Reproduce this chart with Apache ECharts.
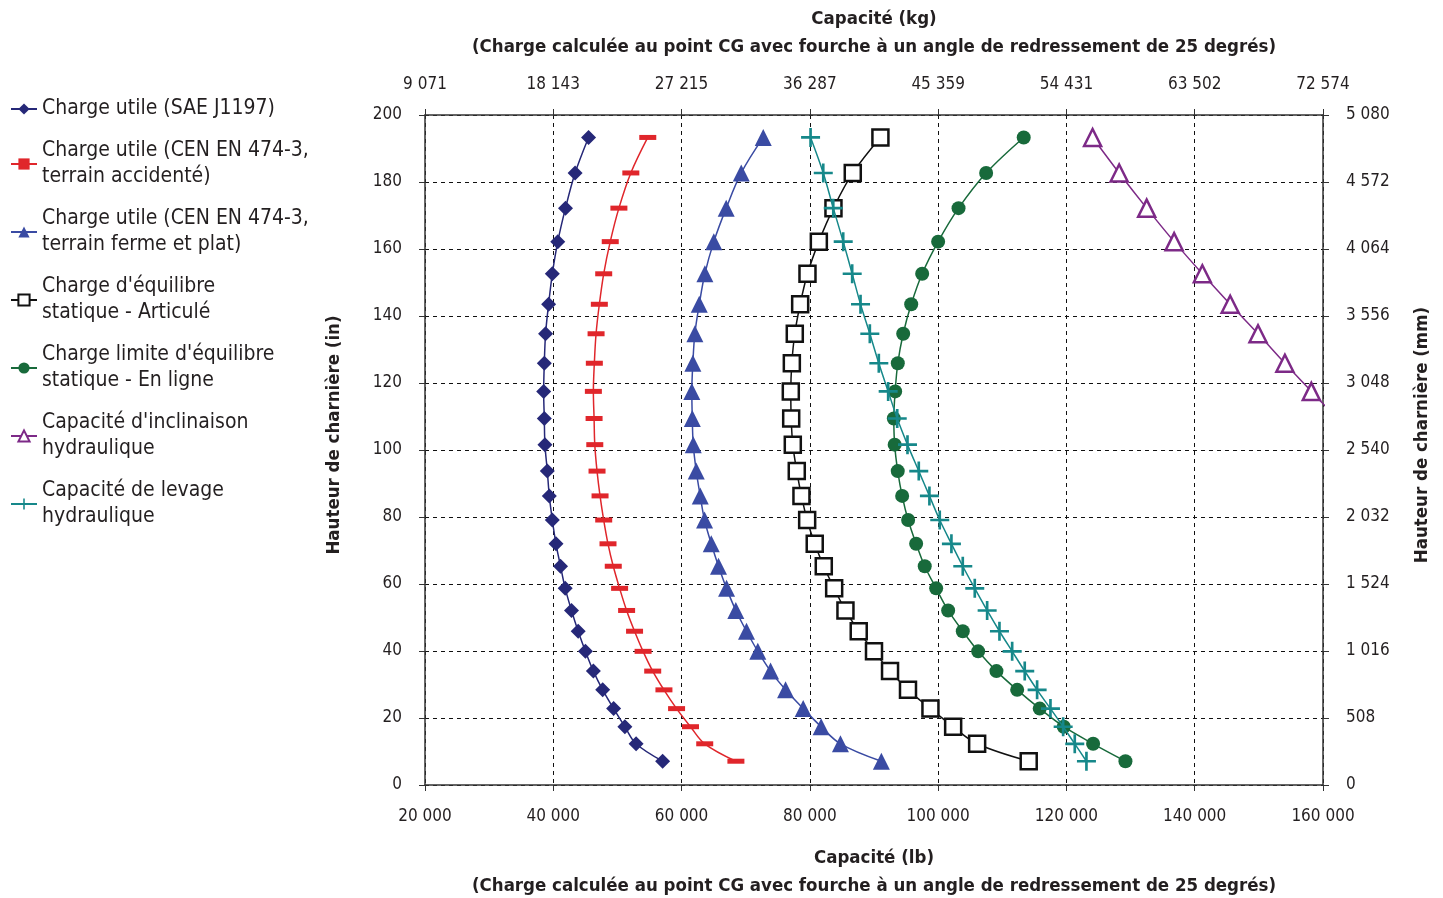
<!DOCTYPE html>
<html>
<head>
<meta charset="utf-8">
<script src="https://cdn.jsdelivr.net/npm/echarts@6/dist/echarts.min.js"></script>
<style>
html,body{margin:0;padding:0;background:#fff;}
#chart{width:1443px;height:898px;}
</style>
</head>
<body>
<div id="chart"></div>
<script>
// Hinge heights (in) shared by all curves
const heights = [193.3, 182.7, 172.2, 162.2, 152.6, 143.5, 134.7, 125.9, 117.5, 109.4, 101.6, 93.7, 86.3, 79.1, 72.0, 65.3, 58.7, 52.1, 45.9, 39.9, 34.0, 28.4, 22.8, 17.4, 12.3, 7.1];

// Capacities (lb)
const saeJ1197 = [45500, 43400, 41900, 40700, 39850, 39270, 38800, 38600, 38500, 38600, 38700, 39070, 39380, 39850, 40420, 41130, 41860, 42840, 43880, 45010, 46250, 47700, 49410, 51160, 52910, 57050];
const cenRough = [54730, 52090, 50230, 48880, 47860, 47180, 46670, 46400, 46250, 46360, 46470, 46820, 47290, 47860, 48530, 49350, 50340, 51430, 52670, 54000, 55500, 57250, 59220, 61390, 63610, 68470];
const cenFlat = [72730, 69300, 66960, 65030, 63630, 62760, 62070, 61760, 61600, 61670, 61820, 62290, 62910, 63580, 64630, 65760, 67010, 68460, 70120, 71890, 73870, 76210, 78960, 81760, 84770, 91150];
const staticArticulated = [91000, 86690, 83680, 81400, 79630, 78490, 77650, 77190, 77030, 77090, 77340, 77960, 78690, 79580, 80760, 82170, 83790, 85550, 87620, 90000, 92500, 95300, 98800, 102340, 106080, 114120];
const staticInline = [113340, 107480, 103180, 100000, 97510, 95800, 94550, 93710, 93300, 93090, 93220, 93700, 94390, 95320, 96570, 97910, 99690, 101560, 103840, 106240, 109090, 112320, 115840, 119580, 124160, 129200];
const hydraulicTilt = [124080, 128220, 132510, 136790, 141190, 145530, 149870, 154060, 158180, 162200];
const hydraulicLift = [80110, 82090, 83650, 85200, 86600, 87900, 89350, 90750, 92210, 93620, 95220, 96980, 98640, 100250, 102070, 103840, 105710, 107640, 109560, 111540, 113500, 115430, 117510, 119490, 121300, 123120];

// Tick labels
const lbTicks = [20000, 40000, 60000, 80000, 100000, 120000, 140000, 160000];
const lbLabels = ['20 000', '40 000', '60 000', '80 000', '100 000', '120 000', '140 000', '160 000'];
const kgLabels = ['9 071', '18 143', '27 215', '36 287', '45 359', '54 431', '63 502', '72 574'];
const inTicks = [0, 20, 40, 60, 80, 100, 120, 140, 160, 180, 200];
const mmLabels = ['0', '508', '1 016', '1 524', '2 032', '2 540', '3 048', '3 556', '4 064', '4 572', '5 080'];

const seriesNames = [
  'Charge utile (SAE J1197)',
  'Charge utile (CEN EN 474-3,\nterrain accidenté)',
  'Charge utile (CEN EN 474-3,\nterrain ferme et plat)',
  "Charge d'équilibre\nstatique - Articulé",
  "Charge limite d'équilibre\nstatique - En ligne",
  "Capacité d'inclinaison\nhydraulique",
  'Capacité de levage\nhydraulique'
];

const FONT = "'DejaVu Sans Condensed', 'Liberation Sans Narrow', sans-serif";
const TXT = '#231f20';

function pairs(vals) { return vals.map((v, i) => [v, heights[i]]); }
function lbIdx(v) { return lbTicks.indexOf(v); }
function inIdx(v) { return inTicks.indexOf(v); }

const plusPath = 'path://M-1.4,-10 L1.4,-10 L1.4,-1.4 L10,-1.4 L10,1.4 L1.4,1.4 L1.4,10 L-1.4,10 L-1.4,1.4 L-10,1.4 L-10,-1.4 L-1.4,-1.4 Z';

const axisLine = { show: true, onZero: false, lineStyle: { color: '#333', width: 1.5 } };
const axisTick = { show: true, length: 6, lineStyle: { color: '#333', width: 1 } };
const gridLine = { show: true, lineStyle: { color: '#111', type: [4, 4], width: 1 } };
const labelStyle = { fontFamily: FONT, fontSize: 17, color: TXT };
const nameStyle = { fontFamily: FONT, fontSize: 18.5, fontWeight: 'bold', color: TXT, lineHeight: 28 };
const yNameStyle = Object.assign({}, nameStyle, { padding: [0, 0, 0, 30] });

function mkSeries(name, vals, color, symbol, size, hollow, z) {
  return {
    name: name,
    type: 'line',
    data: pairs(vals),
    smooth: 0.35,
    symbol: symbol,
    symbolSize: size,
    showAllSymbol: true,
    clip: true,
    z: z,
    lineStyle: { color: color, width: 1.5 },
    itemStyle: hollow
      ? { color: '#fff', borderColor: color, borderWidth: 2.5 }
      : { color: color, borderWidth: 0 },
    emphasis: { disabled: true },
    animation: false
  };
}

const chart = echarts.init(document.getElementById('chart'), null, { renderer: 'canvas' });
chart.setOption({
  animation: false,
  backgroundColor: '#fff',
  textStyle: { fontFamily: FONT },
  grid: { left: 425, right: 120, top: 115, bottom: 113, containLabel: false, outerBoundsMode: 'none' },
  legend: {
    orient: 'vertical',
    left: 10,
    top: 96,
    padding: 0,
    itemWidth: 26,
    itemHeight: 14,
    itemGap: 16,
    data: seriesNames,
    textStyle: { fontFamily: FONT, fontSize: 21, color: TXT, lineHeight: 26 },
    selectedMode: false
  },
  xAxis: [
    {
      type: 'value', position: 'bottom', min: 20000, max: 160000, interval: 20000,
      name: 'Capacité (lb)\n(Charge calculée au point CG avec fourche à un angle de redressement de 25 degrés)',
      nameLocation: 'middle', nameGap: 59, nameTextStyle: nameStyle,
      axisLine: axisLine, axisTick: axisTick, splitLine: gridLine,
      axisLabel: Object.assign({ margin: 23, formatter: v => lbLabels[lbIdx(v)] }, labelStyle)
    },
    {
      type: 'value', position: 'top', min: 20000, max: 160000, interval: 20000,
      name: 'Capacité (kg)\n(Charge calculée au point CG avec fourche à un angle de redressement de 25 degrés)',
      nameLocation: 'middle', nameGap: 54, nameTextStyle: nameStyle,
      axisLine: axisLine, axisTick: axisTick, splitLine: { show: false },
      axisLabel: Object.assign({ margin: 22, formatter: v => kgLabels[lbIdx(v)] }, labelStyle)
    }
  ],
  yAxis: [
    {
      type: 'value', position: 'left', min: 0, max: 200, interval: 20,
      name: 'Hauteur de charnière (in)',
      nameLocation: 'middle', nameGap: 77, nameTextStyle: yNameStyle,
      axisLine: axisLine, axisTick: axisTick, splitLine: gridLine,
      axisLabel: Object.assign({ margin: 23, padding: [4, 0, 0, 0], formatter: v => String(inTicks[inIdx(v)]) }, labelStyle)
    },
    {
      type: 'value', position: 'right', min: 0, max: 200, interval: 20,
      name: 'Hauteur de charnière (mm)',
      nameLocation: 'middle', nameGap: 85, nameTextStyle: yNameStyle,
      axisLine: axisLine, axisTick: axisTick, splitLine: { show: false },
      axisLabel: Object.assign({ margin: 23, padding: [4, 0, 0, 0], formatter: v => mmLabels[inIdx(v)] }, labelStyle)
    }
  ],
  series: [
    mkSeries(seriesNames[0], saeJ1197, '#262878', 'diamond', 15, false, 2),
    mkSeries(seriesNames[1], cenRough, '#e0262b', 'rect', [17, 5], false, 3),
    mkSeries(seriesNames[2], cenFlat, '#3a4ba3', 'triangle', 17, false, 4),
    mkSeries(seriesNames[3], staticArticulated, '#111111', 'rect', 16, true, 5),
    mkSeries(seriesNames[4], staticInline, '#186a3b', 'circle', 14, false, 6),
    mkSeries(seriesNames[5], hydraulicTilt, '#7d2a87', 'triangle', 17, true, 7),
    mkSeries(seriesNames[6], hydraulicLift, '#16888a', plusPath, 19, false, 8)
  ]
});
</script>
</body>
</html>
